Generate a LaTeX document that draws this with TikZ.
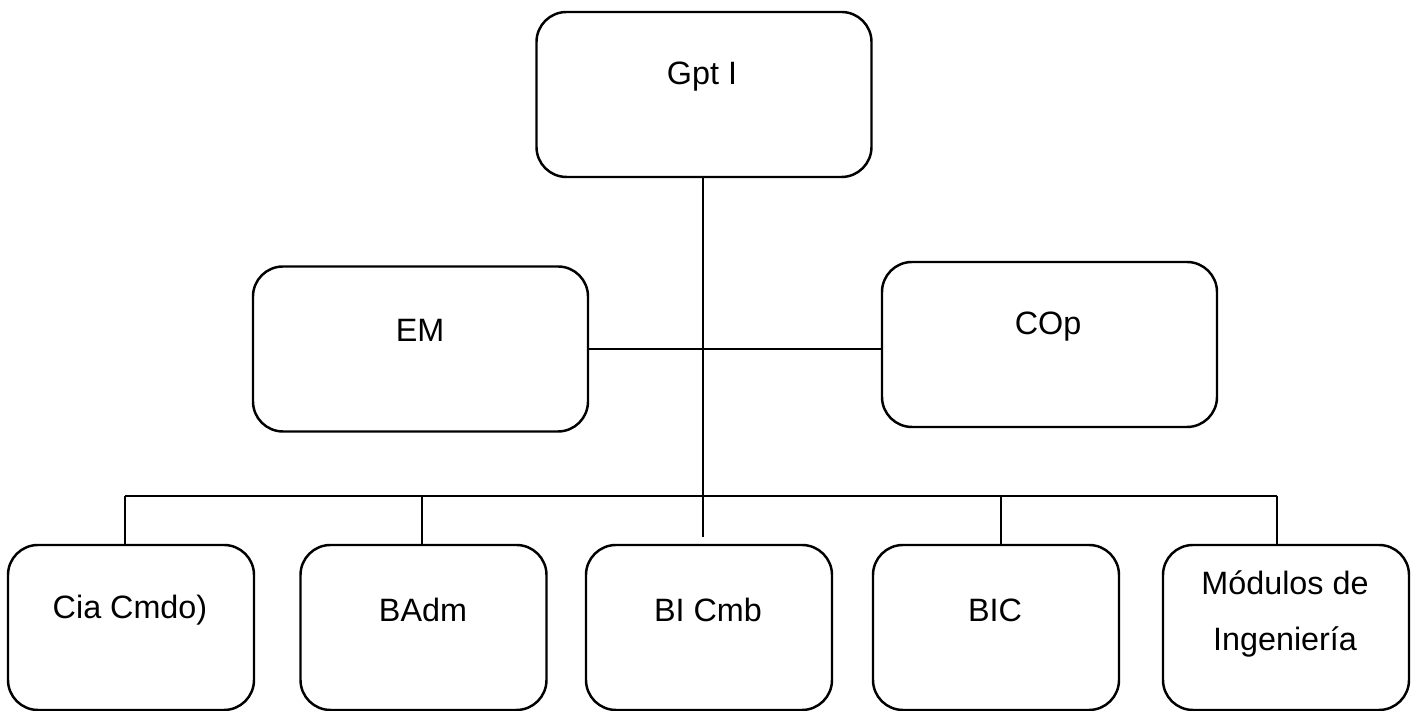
\documentclass[tikz,border=0pt]{standalone}
\usepackage{fontspec}
\setmainfont{Liberation Sans}
\usepackage{tikz}

\tikzset{
  unit/.style={draw, line width=0.7pt, rounded corners=3mm, minimum width=3.35cm, minimum height=1.65cm},
  sub/.style={unit, minimum width=2.46cm},
  lbl/.style={font=\fontsize{9.2}{16}\selectfont, align=center, inner sep=0pt},
  link/.style={line width=0.7pt}
}

\begin{document}
\begin{tikzpicture}
\useasboundingbox (0,0) rectangle (14.11,7.11);

% jefatura y apoyo
\node[unit] (gpt) at (7.04,6.165) {};
\node[lbl] (gpttxt) at (7.02,6.34) {Gpt I};
\node[unit] (em) at (4.205,3.62) {};
\node[lbl] (emtxt) at (4.20,3.81) {EM};
\node[unit] (cop) at (10.495,3.665) {};
\node[lbl] (coptxt) at (10.48,3.84) {COp};

% unidades subordinadas
\node[sub] (cia) at (1.31,0.835) {};
\node[lbl] (ciatxt) at (1.30,1.01) {Cia Cmdo)};
\node[sub] (badm) at (4.235,0.835) {};
\node[lbl] (badmtxt) at (4.23,1.01) {BAdm};
\node[sub] (bicmb) at (7.09,0.835) {};
\node[lbl] (bicmbtxt) at (7.08,1.01) {BI Cmb};
\node[sub] (bic) at (9.96,0.835) {};
\node[lbl] (bictxt) at (9.95,1.01) {BIC};
\node[sub] (mod) at (12.86,0.835) {};
\node[lbl] (modtxt) at (12.85,0.97) {Módulos de\\Ingeniería};

% lineas de mando
\coordinate (trunk) at (7.03,1.74);
\coordinate (busw) at (1.25,2.15);
\coordinate (buse) at (12.77,2.15);
\draw[link] (gpt.south -| trunk) -- (trunk);
\draw[link] (em.east) -- (em.east -| cop.west);
\draw[link] (busw) -- (buse);
\foreach \u/\x in {cia/1.25,badm/4.22,bic/10.01,mod/12.77}{
  \draw[link] (\x,2.15) coordinate (drop) -- (drop |- \u.north);
}
\end{tikzpicture}
\end{document}
